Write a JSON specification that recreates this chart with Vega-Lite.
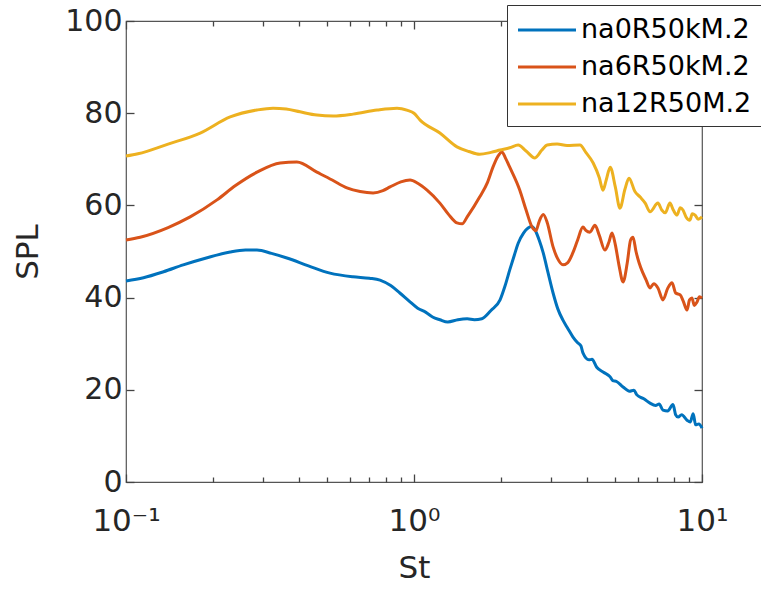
{
  "$schema": "https://vega.github.io/schema/vega-lite/v6.json",
  "width": 576,
  "height": 461,
  "autosize": {"type": "none"},
  "padding": {"left": 126, "top": 21, "right": 59, "bottom": 108},
  "background": "white",
  "config": {
    "font": "DejaVu Sans",
    "view": {"stroke": "#555", "strokeWidth": 1.2},
    "axis": {"domainColor": "#555", "tickColor": "#444", "tickWidth": 1.3, "labelColor": "#262626", "titleColor": "#262626", "labelFont": "DejaVu Sans", "titleFont": "DejaVu Sans", "grid": false, "labelFlush": false, "zindex": 1}
  },
  "datasets": {
    "spl": [
      {"St": 0.1, "SPL": 43.6, "series": "na0R50kM.2"},
      {"St": 0.115, "SPL": 44.3, "series": "na0R50kM.2"},
      {"St": 0.135, "SPL": 45.6, "series": "na0R50kM.2"},
      {"St": 0.158, "SPL": 47.1, "series": "na0R50kM.2"},
      {"St": 0.19, "SPL": 48.6, "series": "na0R50kM.2"},
      {"St": 0.23, "SPL": 49.9, "series": "na0R50kM.2"},
      {"St": 0.26, "SPL": 50.3, "series": "na0R50kM.2"},
      {"St": 0.285, "SPL": 50.3, "series": "na0R50kM.2"},
      {"St": 0.32, "SPL": 49.6, "series": "na0R50kM.2"},
      {"St": 0.362, "SPL": 48.6, "series": "na0R50kM.2"},
      {"St": 0.43, "SPL": 46.9, "series": "na0R50kM.2"},
      {"St": 0.511, "SPL": 45.3, "series": "na0R50kM.2"},
      {"St": 0.614, "SPL": 44.5, "series": "na0R50kM.2"},
      {"St": 0.7, "SPL": 44.2, "series": "na0R50kM.2"},
      {"St": 0.762, "SPL": 43.8, "series": "na0R50kM.2"},
      {"St": 0.83, "SPL": 42.6, "series": "na0R50kM.2"},
      {"St": 0.893, "SPL": 41.0, "series": "na0R50kM.2"},
      {"St": 0.96, "SPL": 39.3, "series": "na0R50kM.2"},
      {"St": 1.03, "SPL": 37.7, "series": "na0R50kM.2"},
      {"St": 1.1, "SPL": 36.8, "series": "na0R50kM.2"},
      {"St": 1.16, "SPL": 35.8, "series": "na0R50kM.2"},
      {"St": 1.23, "SPL": 35.2, "series": "na0R50kM.2"},
      {"St": 1.31, "SPL": 34.7, "series": "na0R50kM.2"},
      {"St": 1.42, "SPL": 35.2, "series": "na0R50kM.2"},
      {"St": 1.53, "SPL": 35.4, "series": "na0R50kM.2"},
      {"St": 1.62, "SPL": 35.2, "series": "na0R50kM.2"},
      {"St": 1.72, "SPL": 35.4, "series": "na0R50kM.2"},
      {"St": 1.85, "SPL": 37.2, "series": "na0R50kM.2"},
      {"St": 1.99, "SPL": 39.5, "series": "na0R50kM.2"},
      {"St": 2.07, "SPL": 42.5, "series": "na0R50kM.2"},
      {"St": 2.15, "SPL": 46.0, "series": "na0R50kM.2"},
      {"St": 2.23, "SPL": 49.2, "series": "na0R50kM.2"},
      {"St": 2.3, "SPL": 51.8, "series": "na0R50kM.2"},
      {"St": 2.4, "SPL": 54.0, "series": "na0R50kM.2"},
      {"St": 2.49, "SPL": 55.1, "series": "na0R50kM.2"},
      {"St": 2.56, "SPL": 55.4, "series": "na0R50kM.2"},
      {"St": 2.63, "SPL": 54.7, "series": "na0R50kM.2"},
      {"St": 2.72, "SPL": 52.5, "series": "na0R50kM.2"},
      {"St": 2.81, "SPL": 49.7, "series": "na0R50kM.2"},
      {"St": 2.92, "SPL": 45.4, "series": "na0R50kM.2"},
      {"St": 3.04, "SPL": 41.0, "series": "na0R50kM.2"},
      {"St": 3.16, "SPL": 37.5, "series": "na0R50kM.2"},
      {"St": 3.29, "SPL": 35.1, "series": "na0R50kM.2"},
      {"St": 3.42, "SPL": 33.3, "series": "na0R50kM.2"},
      {"St": 3.56, "SPL": 31.5, "series": "na0R50kM.2"},
      {"St": 3.7, "SPL": 30.2, "series": "na0R50kM.2"},
      {"St": 3.8, "SPL": 29.5, "series": "na0R50kM.2"},
      {"St": 3.86, "SPL": 28.0, "series": "na0R50kM.2"},
      {"St": 4.05, "SPL": 26.5, "series": "na0R50kM.2"},
      {"St": 4.15, "SPL": 26.6, "series": "na0R50kM.2"},
      {"St": 4.31, "SPL": 24.9, "series": "na0R50kM.2"},
      {"St": 4.55, "SPL": 23.8, "series": "na0R50kM.2"},
      {"St": 4.8, "SPL": 22.8, "series": "na0R50kM.2"},
      {"St": 4.9, "SPL": 22.0, "series": "na0R50kM.2"},
      {"St": 5.05, "SPL": 21.8, "series": "na0R50kM.2"},
      {"St": 5.32, "SPL": 20.6, "series": "na0R50kM.2"},
      {"St": 5.6, "SPL": 19.7, "series": "na0R50kM.2"},
      {"St": 5.8, "SPL": 19.9, "series": "na0R50kM.2"},
      {"St": 5.94, "SPL": 18.9, "series": "na0R50kM.2"},
      {"St": 6.3, "SPL": 18.0, "series": "na0R50kM.2"},
      {"St": 6.6, "SPL": 17.1, "series": "na0R50kM.2"},
      {"St": 6.9, "SPL": 16.6, "series": "na0R50kM.2"},
      {"St": 7.1, "SPL": 16.9, "series": "na0R50kM.2"},
      {"St": 7.32, "SPL": 15.6, "series": "na0R50kM.2"},
      {"St": 7.6, "SPL": 15.4, "series": "na0R50kM.2"},
      {"St": 7.93, "SPL": 16.8, "series": "na0R50kM.2"},
      {"St": 8.1, "SPL": 14.6, "series": "na0R50kM.2"},
      {"St": 8.26, "SPL": 14.1, "series": "na0R50kM.2"},
      {"St": 8.5, "SPL": 14.6, "series": "na0R50kM.2"},
      {"St": 8.87, "SPL": 13.4, "series": "na0R50kM.2"},
      {"St": 9.1, "SPL": 13.0, "series": "na0R50kM.2"},
      {"St": 9.32, "SPL": 14.8, "series": "na0R50kM.2"},
      {"St": 9.5, "SPL": 12.4, "series": "na0R50kM.2"},
      {"St": 9.75, "SPL": 12.6, "series": "na0R50kM.2"},
      {"St": 10, "SPL": 11.7, "series": "na0R50kM.2"},

      {"St": 0.1, "SPL": 52.5, "series": "na6R50kM.2"},
      {"St": 0.112, "SPL": 53.1, "series": "na6R50kM.2"},
      {"St": 0.14, "SPL": 55.2, "series": "na6R50kM.2"},
      {"St": 0.167, "SPL": 57.5, "series": "na6R50kM.2"},
      {"St": 0.207, "SPL": 61.2, "series": "na6R50kM.2"},
      {"St": 0.24, "SPL": 64.3, "series": "na6R50kM.2"},
      {"St": 0.285, "SPL": 67.2, "series": "na6R50kM.2"},
      {"St": 0.343, "SPL": 69.2, "series": "na6R50kM.2"},
      {"St": 0.392, "SPL": 69.4, "series": "na6R50kM.2"},
      {"St": 0.46, "SPL": 67.2, "series": "na6R50kM.2"},
      {"St": 0.52, "SPL": 65.5, "series": "na6R50kM.2"},
      {"St": 0.585, "SPL": 63.8, "series": "na6R50kM.2"},
      {"St": 0.65, "SPL": 63.0, "series": "na6R50kM.2"},
      {"St": 0.721, "SPL": 62.7, "series": "na6R50kM.2"},
      {"St": 0.78, "SPL": 63.2, "series": "na6R50kM.2"},
      {"St": 0.826, "SPL": 64.0, "series": "na6R50kM.2"},
      {"St": 0.9, "SPL": 65.1, "series": "na6R50kM.2"},
      {"St": 0.969, "SPL": 65.5, "series": "na6R50kM.2"},
      {"St": 1.03, "SPL": 64.8, "series": "na6R50kM.2"},
      {"St": 1.11, "SPL": 63.3, "series": "na6R50kM.2"},
      {"St": 1.23, "SPL": 60.5, "series": "na6R50kM.2"},
      {"St": 1.32, "SPL": 58.0, "series": "na6R50kM.2"},
      {"St": 1.41, "SPL": 56.2, "series": "na6R50kM.2"},
      {"St": 1.47, "SPL": 56.0, "series": "na6R50kM.2"},
      {"St": 1.53, "SPL": 57.5, "series": "na6R50kM.2"},
      {"St": 1.69, "SPL": 61.8, "series": "na6R50kM.2"},
      {"St": 1.8, "SPL": 65.0, "series": "na6R50kM.2"},
      {"St": 1.88, "SPL": 68.3, "series": "na6R50kM.2"},
      {"St": 1.95, "SPL": 70.5, "series": "na6R50kM.2"},
      {"St": 2.02, "SPL": 71.6, "series": "na6R50kM.2"},
      {"St": 2.08, "SPL": 70.2, "series": "na6R50kM.2"},
      {"St": 2.15, "SPL": 68.3, "series": "na6R50kM.2"},
      {"St": 2.33, "SPL": 63.3, "series": "na6R50kM.2"},
      {"St": 2.45, "SPL": 59.0, "series": "na6R50kM.2"},
      {"St": 2.57, "SPL": 55.3, "series": "na6R50kM.2"},
      {"St": 2.65, "SPL": 54.5, "series": "na6R50kM.2"},
      {"St": 2.72, "SPL": 56.5, "series": "na6R50kM.2"},
      {"St": 2.81, "SPL": 58.0, "series": "na6R50kM.2"},
      {"St": 2.9, "SPL": 56.3, "series": "na6R50kM.2"},
      {"St": 3.04, "SPL": 51.0, "series": "na6R50kM.2"},
      {"St": 3.15, "SPL": 48.5, "series": "na6R50kM.2"},
      {"St": 3.29, "SPL": 47.1, "series": "na6R50kM.2"},
      {"St": 3.42, "SPL": 47.6, "series": "na6R50kM.2"},
      {"St": 3.56, "SPL": 49.7, "series": "na6R50kM.2"},
      {"St": 3.7, "SPL": 52.5, "series": "na6R50kM.2"},
      {"St": 3.86, "SPL": 55.3, "series": "na6R50kM.2"},
      {"St": 3.95, "SPL": 54.6, "series": "na6R50kM.2"},
      {"St": 4.08, "SPL": 54.2, "series": "na6R50kM.2"},
      {"St": 4.25, "SPL": 55.7, "series": "na6R50kM.2"},
      {"St": 4.4, "SPL": 53.5, "series": "na6R50kM.2"},
      {"St": 4.6, "SPL": 50.3, "series": "na6R50kM.2"},
      {"St": 4.75, "SPL": 52.0, "series": "na6R50kM.2"},
      {"St": 4.87, "SPL": 54.0, "series": "na6R50kM.2"},
      {"St": 5.0, "SPL": 51.5, "series": "na6R50kM.2"},
      {"St": 5.15, "SPL": 47.0, "series": "na6R50kM.2"},
      {"St": 5.32, "SPL": 43.4, "series": "na6R50kM.2"},
      {"St": 5.5, "SPL": 47.5, "series": "na6R50kM.2"},
      {"St": 5.65, "SPL": 52.5, "series": "na6R50kM.2"},
      {"St": 5.76, "SPL": 53.1, "series": "na6R50kM.2"},
      {"St": 5.9, "SPL": 50.0, "series": "na6R50kM.2"},
      {"St": 6.05, "SPL": 47.5, "series": "na6R50kM.2"},
      {"St": 6.24, "SPL": 45.3, "series": "na6R50kM.2"},
      {"St": 6.4, "SPL": 43.8, "series": "na6R50kM.2"},
      {"St": 6.6, "SPL": 42.1, "series": "na6R50kM.2"},
      {"St": 6.8, "SPL": 43.0, "series": "na6R50kM.2"},
      {"St": 7.03, "SPL": 42.1, "series": "na6R50kM.2"},
      {"St": 7.32, "SPL": 39.5, "series": "na6R50kM.2"},
      {"St": 7.6, "SPL": 42.0, "series": "na6R50kM.2"},
      {"St": 7.87, "SPL": 43.2, "series": "na6R50kM.2"},
      {"St": 8.1, "SPL": 41.0, "series": "na6R50kM.2"},
      {"St": 8.4, "SPL": 40.6, "series": "na6R50kM.2"},
      {"St": 8.6, "SPL": 39.3, "series": "na6R50kM.2"},
      {"St": 8.87, "SPL": 37.3, "series": "na6R50kM.2"},
      {"St": 9.05, "SPL": 39.5, "series": "na6R50kM.2"},
      {"St": 9.23, "SPL": 39.9, "series": "na6R50kM.2"},
      {"St": 9.4, "SPL": 38.3, "series": "na6R50kM.2"},
      {"St": 9.6, "SPL": 39.0, "series": "na6R50kM.2"},
      {"St": 9.8, "SPL": 40.2, "series": "na6R50kM.2"},
      {"St": 10, "SPL": 39.9, "series": "na6R50kM.2"},

      {"St": 0.1, "SPL": 70.7, "series": "na12R50M.2"},
      {"St": 0.11, "SPL": 71.2, "series": "na12R50M.2"},
      {"St": 0.14, "SPL": 73.3, "series": "na12R50M.2"},
      {"St": 0.181, "SPL": 75.7, "series": "na12R50M.2"},
      {"St": 0.23, "SPL": 79.2, "series": "na12R50M.2"},
      {"St": 0.285, "SPL": 80.7, "series": "na12R50M.2"},
      {"St": 0.324, "SPL": 81.1, "series": "na12R50M.2"},
      {"St": 0.36, "SPL": 80.9, "series": "na12R50M.2"},
      {"St": 0.402, "SPL": 80.3, "series": "na12R50M.2"},
      {"St": 0.46, "SPL": 79.6, "series": "na12R50M.2"},
      {"St": 0.524, "SPL": 79.4, "series": "na12R50M.2"},
      {"St": 0.614, "SPL": 79.8, "series": "na12R50M.2"},
      {"St": 0.745, "SPL": 80.7, "series": "na12R50M.2"},
      {"St": 0.873, "SPL": 81.1, "series": "na12R50M.2"},
      {"St": 0.95, "SPL": 80.6, "series": "na12R50M.2"},
      {"St": 1.0, "SPL": 80.0, "series": "na12R50M.2"},
      {"St": 1.05, "SPL": 78.5, "series": "na12R50M.2"},
      {"St": 1.23, "SPL": 75.7, "series": "na12R50M.2"},
      {"St": 1.41, "SPL": 72.7, "series": "na12R50M.2"},
      {"St": 1.55, "SPL": 71.7, "series": "na12R50M.2"},
      {"St": 1.69, "SPL": 71.1, "series": "na12R50M.2"},
      {"St": 1.85, "SPL": 71.5, "series": "na12R50M.2"},
      {"St": 1.99, "SPL": 72.0, "series": "na12R50M.2"},
      {"St": 2.15, "SPL": 72.5, "series": "na12R50M.2"},
      {"St": 2.3, "SPL": 73.1, "series": "na12R50M.2"},
      {"St": 2.45, "SPL": 71.8, "series": "na12R50M.2"},
      {"St": 2.63, "SPL": 70.3, "series": "na12R50M.2"},
      {"St": 2.78, "SPL": 72.0, "series": "na12R50M.2"},
      {"St": 2.9, "SPL": 73.1, "series": "na12R50M.2"},
      {"St": 3.14, "SPL": 73.3, "series": "na12R50M.2"},
      {"St": 3.4, "SPL": 73.0, "series": "na12R50M.2"},
      {"St": 3.77, "SPL": 73.1, "series": "na12R50M.2"},
      {"St": 3.95, "SPL": 71.5, "series": "na12R50M.2"},
      {"St": 4.19, "SPL": 69.2, "series": "na12R50M.2"},
      {"St": 4.4, "SPL": 66.0, "series": "na12R50M.2"},
      {"St": 4.53, "SPL": 63.3, "series": "na12R50M.2"},
      {"St": 4.65, "SPL": 65.5, "series": "na12R50M.2"},
      {"St": 4.8, "SPL": 68.3, "series": "na12R50M.2"},
      {"St": 5.0, "SPL": 64.0, "series": "na12R50M.2"},
      {"St": 5.19, "SPL": 59.4, "series": "na12R50M.2"},
      {"St": 5.4, "SPL": 63.5, "series": "na12R50M.2"},
      {"St": 5.58, "SPL": 65.9, "series": "na12R50M.2"},
      {"St": 5.85, "SPL": 63.0, "series": "na12R50M.2"},
      {"St": 6.1, "SPL": 61.8, "series": "na12R50M.2"},
      {"St": 6.35, "SPL": 60.5, "series": "na12R50M.2"},
      {"St": 6.6, "SPL": 58.6, "series": "na12R50M.2"},
      {"St": 7.03, "SPL": 60.5, "series": "na12R50M.2"},
      {"St": 7.25, "SPL": 59.0, "series": "na12R50M.2"},
      {"St": 7.45, "SPL": 58.4, "series": "na12R50M.2"},
      {"St": 7.74, "SPL": 60.5, "series": "na12R50M.2"},
      {"St": 7.95, "SPL": 59.0, "series": "na12R50M.2"},
      {"St": 8.19, "SPL": 57.9, "series": "na12R50M.2"},
      {"St": 8.4, "SPL": 59.5, "series": "na12R50M.2"},
      {"St": 8.59, "SPL": 59.0, "series": "na12R50M.2"},
      {"St": 8.8, "SPL": 57.5, "series": "na12R50M.2"},
      {"St": 9.08, "SPL": 56.8, "series": "na12R50M.2"},
      {"St": 9.25, "SPL": 58.2, "series": "na12R50M.2"},
      {"St": 9.46, "SPL": 57.9, "series": "na12R50M.2"},
      {"St": 9.7, "SPL": 57.0, "series": "na12R50M.2"},
      {"St": 10, "SPL": 57.5, "series": "na12R50M.2"}
    ]
  },
  "data": {"name": "spl"},
  "resolve": {"axis": {"x": "independent", "y": "independent"}},
  "layer": [
    {
      "mark": {"type": "line", "strokeOpacity": 0},
      "encoding": {
        "x": {"field": "St", "type": "quantitative", "scale": {"type": "log", "domain": [0.1, 10], "nice": false},
          "axis": {"orient": "top", "labels": false, "title": null, "domain": false,
            "values": [0.1,0.2,0.3,0.4,0.5,0.6,0.7,0.8,0.9,1,2,3,4,5,6,7,8,9,10],
            "tickSize": {"condition": {"test": "datum.value == 0.1 || datum.value == 1 || datum.value == 10", "value": -8}, "value": -5}}},
        "y": {"field": "SPL", "type": "quantitative", "scale": {"domain": [0, 100], "nice": false},
          "axis": {"orient": "right", "labels": false, "title": null, "domain": false, "values": [0,20,40,60,80,100], "tickSize": -8}}
      }
    },
    {
      "mark": {"type": "line", "strokeWidth": 3, "interpolate": "monotone"},
      "encoding": {
        "x": {"field": "St", "type": "quantitative", "scale": {"type": "log", "domain": [0.1, 10], "nice": false},
          "axis": {"orient": "bottom", "title": "St", "titleFontSize": 31, "titleFontWeight": "normal", "titlePadding": 14,
            "labelFontSize": 31, "labelPadding": 32, "labelOverlap": false, "domain": false,
            "values": [0.1,0.2,0.3,0.4,0.5,0.6,0.7,0.8,0.9,1,2,3,4,5,6,7,8,9,10],
            "labelExpr": "datum.value == 0.1 ? '10⁻¹' : datum.value == 1 ? '10⁰' : datum.value == 10 ? '10¹' : ''",
            "tickSize": {"condition": {"test": "datum.value == 0.1 || datum.value == 1 || datum.value == 10", "value": -8}, "value": -5}}},
        "y": {"field": "SPL", "type": "quantitative", "scale": {"domain": [0, 100], "nice": false},
          "axis": {"orient": "left", "title": "SPL", "titleFontSize": 31, "titleFontWeight": "normal", "titlePadding": 20,
            "labelFontSize": 30, "labelPadding": 12, "domain": false, "values": [0,20,40,60,80,100], "tickSize": -8}},
        "color": {"field": "series", "type": "nominal",
          "scale": {"domain": ["na0R50kM.2", "na6R50kM.2", "na12R50M.2"], "range": ["#0072BD", "#D95319", "#EDB120"]},
          "legend": {"title": null, "orient": "none", "legendX": 381, "legendY": -16,
            "fillColor": "white", "strokeColor": "#333", "padding": 9,
            "labelFontSize": 27, "labelColor": "#000", "labelFont": "DejaVu Sans", "labelOffset": 18, "labelLimit": 400,
            "symbolType": "M-2,0H2", "symbolSize": 841, "symbolOffset": 15, "symbolStrokeWidth": 3, "rowPadding": 8}}
      }
    }
  ]
}
